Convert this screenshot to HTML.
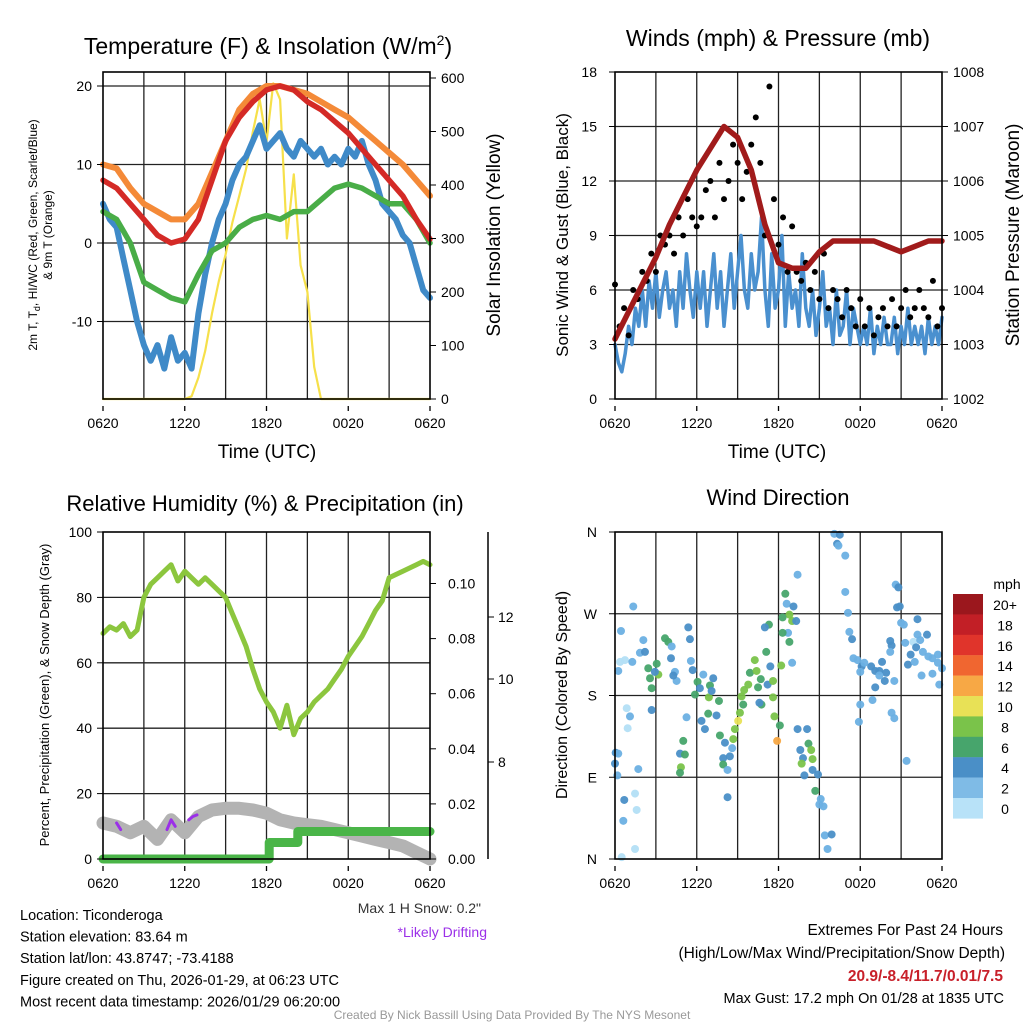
<!DOCTYPE html>
<html><head><meta charset="utf-8"><style>
html,body{margin:0;padding:0;background:#fff;}
svg{display:block;font-family:"Liberation Sans",sans-serif;}
</style></head><body>
<svg id="c" width="1024" height="1024" viewBox="0 0 1024 1024" xmlns="http://www.w3.org/2000/svg"></svg>
<script>
// ---------- DATA ----------
const tempT = [8,7,5,3,1,0,0.5,3,8,13,16,18,19.5,20,19.5,18,17,15.5,14,12,10,8,6,3,0.5];
const temp9m = [10,9.5,7,5,4,3,3,5,9,13,17,19,20,20,19.5,19,18,17,16,14.5,13,11.5,10,8,6];
const dewT = [4,3,0,-5,-6,-7,-7.5,-4,-1,0,2,3,3.5,3,4,4,5.5,7,7.5,7,6,5,5,3,0];
const windChill = [5,3,2,-2,-6,-10,-13,-15,-13,-16,-12,-15,-14,-16,-9,-4,0,3,5,8,10,11,13,15,12,13,14,12,11,13,12,11,12,10,11,10,12,11,13,10,8,5,4,3,1,0,-3,-6,-7];
const insolation = [0,0,0,0,0,0,0,0,0,0,0,0,0,5,40,90,160,220,270,330,380,430,500,560,480,590,560,300,420,250,200,60,0,0,0,0,0,0,0,0,0,0,0,0,0,0,0,0,0];
const windSpeed = [3,2,1.5,2.5,4,3,5,4,6, 4,6.5,5,7,4.5,6,7,5, 6,4,7,5,8,6,4.5,7, 5,7,4,6,8,5,7,4, 6,8,5,7,9,6,5,8, 6,7,10,6,4,8,5,6, 9,4,7,5,6,4,8,5, 4,6,3.5,5,7,4,5,3, 6,3.5,4,6,3,5,4,3, 4,3,5,2.5,4,3,4.5,3, 3,4.5,2.5,4,3,5,3,4, 3,4,2.5,4.5,3,4,3,4.5];
const gusts = [6.3,4,5,3.5,6,5.5,7, 6.5,8,7,9,8.5,9, 8,10,9,11,10,9.5, 10,11.5,12,10,13,11, 12,14,13,11,12.5,14, 15.5,13,9,17.2,11,8.5, 10,7,9.5,7,6.5,7.5, 6,7,5.5,8,5,6, 5.5,4.5,6,5,4,5.5, 4,5,3.5,4.5,5,4, 5.5,4,5,6,4.5,5, 6,5,4.5,6.5,4,5];
const pressure = [1003.1,1003.6,1004.1,1004.6,1005.2,1005.7,1006.2,1006.6,1007.0,1006.8,1006.2,1005.2,1004.5,1004.4,1004.4,1004.7,1004.9,1004.9,1004.9,1004.9,1004.8,1004.7,1004.8,1004.9,1004.9];
const relHum = [69,71,70,72,68,70,80,84,86,88,90,85,88,86,84,86,84,82,80,75,70,65,58,52,48,45,40,47,38,43,45,48,50,52,55,58,62,65,68,72,76,79,86,87,88,89,90,91,90];
const snowPct = [11,10,8,10,6,12,8,13,15,15.5,15.5,15,14,12,11,10.5,10,9,8,7,6,5,4,2,0];
const precipHours = [0,12.2,12.2,14.3,14.3,24];
const precipIn = [0,0,0.006,0.006,0.01,0.01];
const driftHours = [[1.0,1.3],[4.7,5.0,5.3],[6.3,6.6,6.9]];
const driftPct = [[11,9],[9,12,10],[12,13,13.5]];
const dirHours = [0.44,1.34,0.37,0.73,0.24,1.27,1.83,2.2,2.08,2.44,2.57,3.18,3.06,2.69,2.93,3.67,3.91,4.16,4.11,4.4,4.52,4.28,5.38,5.5,5.57,5.7,5.87,6.06,6.23,6.48,6.97,6.89,7.09,7.21,7.63,6.84,7.45,6.35,6.6,5.25,2.69,0.86,1.1,0.93,5.01,4.77,5.13,4.84,4.77,7.7,8.07,8.6,7.94,7.94,8.26,8.43,8.26,8.68,8.8,9.04,9.17,9.41,9.29,9.48,9.78,9.9,10.26,10.39,10.7,10.5,11.1,11.3,11.0,11.4,11.2,10.75,10.6,11.6,11.6,11.7,12.1,12.2,11.9,12.5,12.6,13.1,12.8,12.3,13.0,13.3,12.7,12.3,12.8,13.0,13.4,13.4,14.1,14.2,14.4,14.5,13.6,13.8,13.7,13.9,14.5,14.9,14.7,15.1,15.0,15.3,15.4,15.9,15.6,16.1,16.5,16.3,16.4,16.9,16.9,17.1,17.2,17.4,17.5,17.8,18.1,18.0,18.3,18.8,19.1,19.4,19.6,19.9,19.8,19.4,19.1,18.9,18.0,17.9,20.3,20.5,21.4,20.6,20.8,20.7,20.9,21.0,21.2,22.2,20.2,20.3,20.2,20.5,21.3,21.9,22.2,22.9,22.4,21.7,22.1,22.6,23.0,23.3,23.7,21.5,22.0,22.5,23.3,23.8,24.0,23.7,0,0.05,0.17,0.24,1.71,0.68,1.47,1.59,0.61,1.47,0.49];
const dirDeg = [251,278,217,219,207,217,227,228,241,210,199,203,215,188,206,243,239,234,221,206,196,202,255,242,218,208,181,195,188,203,191,178,185,199,174,160,158,152,143,156,164,166,157,144,130,116,115,101,95,136,128,122,111,104,98,113,68,132,143,152,161,170,179,186,192,205,219,207,198,189,228,258,255,212,192,170,172,196,178,157,147,213,130,292,281,278,269,266,262,262,249,249,239,216,313,143,143,127,120,110,120,111,105,92,98,93,75,66,60,58,26,27,11,358,357,347,345,334,294,271,250,242,221,219,212,206,216,212,207,207,217,205,196,202,189,175,170,151,161,155,108,302,299,277,278,260,258,264,240,235,228,196,238,239,247,247,241,225,233,228,223,221,216,214,217,202,204,192,210,225,105,117,92,116,99,65,72,54,42,11,2];
const dirSpeed = [3,3,1,1,3,3,3,4,3,6,6,8,6,6,4,6,6,3,4,3,3,4,4,4,3,4,6,6,4,3,6,8,4,4,6,6,4,4,4,3,4,1,3,1,6,4,6,8,6,6,4,3,4,6,3,4,4,8,8,10,8,6,8,8,8,6,8,8,6,6,6,6,4,4,4,6,4,8,8,8,6,8,12,6,3,4,8,6,8,4,3,6,6,3,3,4,4,6,8,8,4,4,8,4,4,4,6,3,3,3,3,4,3,3,4,4,3,3,3,3,3,4,3,3,4,3,3,4,4,4,4,4,4,3,4,3,3,3,3,3,3,3,4,4,4,3,3,4,4,4,3,3,3,1,3,4,3,4,4,3,3,3,3,4,3,3,3,3,3,3,4,4,3,3,3,4,1,1,3,1,1,3];
const cbLabels = ["20+","18","16","14","12","10","8","6","4","2","0"];
const cbColors = ["#9b171d","#c21f26","#e0342b","#f06630","#f7a845","#e8e156","#7ac34a","#47a56c","#4a8fc7","#7fbbe6","#b8e2f8"];
const tempTicks = [-10,0,10,20];
const insolTicks = [0,100,200,300,400,500,600];
const windTicks = [0,3,6,9,12,15,18];
const presTicks = [1002,1003,1004,1005,1006,1007,1008];
const rhTicks = [0,20,40,60,80,100];
const precipTicks = [0,0.02,0.04,0.06,0.08,0.10];
const timeLabels = ["0620","1220","1820","0020","0620"];
const dirLabels = ["N","E","S","W","N"];

// ---------- HELPERS ----------
const NS="http://www.w3.org/2000/svg", svg=document.getElementById('c');
function mk(tag,attrs,parent){const e=document.createElementNS(NS,tag);for(const k in attrs)e.setAttribute(k,attrs[k]);(parent||svg).appendChild(e);return e;}
function txt(x,y,s,size,anchor,extra){const e=mk('text',Object.assign({x:x,y:y,'font-size':size,'text-anchor':anchor||'middle',fill:'#000'},extra||{}));e.textContent=s;return e;}
const xL=t=>103+t*(327/24), xR=t=>615+t*(327/24);
const yTemp=v=>243-v*7.85, yIns=v=>399-v*(321/600);
const yWind=v=>399-v*(327/18), yPres=v=>399-(v-1002)*(327/6);
const yRH=v=>859-v*3.27, yPrec=v=>859-v*2755;
const yDir=d=>859-d*(327/360);
function pathOf(vals,hours,xf,yf){return vals.map((v,i)=>(i?'L':'M')+xf(hours?hours[i]:i*24/(vals.length-1)).toFixed(1)+' '+yf(v).toFixed(1)).join(' ');}
function grid(x0,x1,y0,y1,ys){
  for(let i=1;i<8;i++){const x=x0+i*(x1-x0)/8;const l=mk('line',{x1:x,x2:x,y1:y0,y2:y1,stroke:'#222','stroke-width':1.3});
    
    }
  ys.forEach(y=>{const l=mk('line',{x1:x0,x2:x1,y1:y,y2:y,stroke:'#222','stroke-width':1.3});
    
    });
}
function frame(x0,x1,y0,y1,name){const r=mk('rect',{x:x0,y:y0,width:x1-x0,height:y1-y0,fill:'none',stroke:'#000','stroke-width':1.6});
  
  }
function timeAxis(x0,x1,y){timeLabels.forEach((s,i)=>{const x=x0+i*(x1-x0)/4;const t=txt(x,y,s,14);
  
  
  mk('line',{x1:x,x2:x,y1:y-22,y2:y-17,stroke:'#000','stroke-width':1.3});});}
function series(d,color,w,name,op){const p=mk('path',{d:d,fill:'none',stroke:color,'stroke-width':w,'stroke-linejoin':'round','stroke-linecap':'round',opacity:op||1});
  
  return p;}

// ---------- PANEL 1: TEMPERATURE ----------
grid(103,430,72,399,tempTicks.map(yTemp));
series(pathOf(insolation,null,xL,yIns),'#f6e04a',2.2,'insolation-line');
series(pathOf(temp9m,null,xL,yTemp),'#f48a38',6,'temp-9m-line');
series(pathOf(windChill,null,xL,yTemp),'#3f8ac8',6,'windchill-line');
series(pathOf(dewT,null,xL,yTemp),'#49ad47',5.5,'dewpoint-line');
series(pathOf(tempT,null,xL,yTemp),'#d42a26',5.5,'temperature-line');
frame(103,430,72,399,'temp-plot-frame');
tempTicks.forEach(v=>{const t=txt(92,yTemp(v)+5,String(v),14,'end');
  
  
  mk('line',{x1:97,x2:103,y1:yTemp(v),y2:yTemp(v),stroke:'#000'});});
insolTicks.forEach(v=>{const t=txt(441,yIns(v)+5,String(v),14,'start');
  
  
  mk('line',{x1:430,x2:436,y1:yIns(v),y2:yIns(v),stroke:'#000'});});
timeAxis(103,430,428);
let e=txt(268,54,'Temperature (F) & Insolation (W/m',23);const sup=mk('tspan',{dy:-9,'font-size':14},e);sup.textContent='2';const cl=mk('tspan',{dy:9},e);cl.textContent=')';


e=txt(267,458,'Time (UTC)',19);


e=txt(0,0,'Solar Insolation (Yellow)',19,'middle',{transform:'translate(500,235) rotate(-90)'});


e=txt(0,0,'2m T, T',12,'middle',{transform:'translate(37,235) rotate(-90)'});
const sub=mk('tspan',{dy:3,'font-size':9},e);sub.textContent='d';const rest=mk('tspan',{dy:-3},e);rest.textContent=',  HI/WC (Red, Green, Scarlet/Blue)';


e=txt(0,0,'& 9m T (Orange)',12,'middle',{transform:'translate(52,235) rotate(-90)'});



// ---------- PANEL 2: WINDS ----------
grid(615,942,72,399,windTicks.slice(1,6).map(yWind));
series(pathOf(windSpeed,null,xR,yWind),'#4a90cf',3.5,'wind-speed-line');
gusts.forEach((g,i)=>{const c=mk('circle',{cx:xR(i*24/(gusts.length-1)),cy:yWind(g),r:3,fill:'#000'});
  
  });
series(pathOf(pressure,null,xR,yPres),'#a11b1b',5.5,'pressure-line');
frame(615,942,72,399,'wind-plot-frame');
windTicks.forEach(v=>{const t=txt(597,yWind(v)+5,String(v),14,'end');
  
  
  mk('line',{x1:609,x2:615,y1:yWind(v),y2:yWind(v),stroke:'#000'});});
presTicks.forEach(v=>{const t=txt(953,yPres(v)+5,String(v),14,'start');
  
  
  mk('line',{x1:942,x2:948,y1:yPres(v),y2:yPres(v),stroke:'#000'});});
timeAxis(615,942,428);
e=txt(778,46,'Winds (mph) & Pressure (mb)',23);


e=txt(777,458,'Time (UTC)',19);


e=txt(0,0,'Sonic Wind & Gust (Blue, Black)',17,'middle',{transform:'translate(568,235) rotate(-90)'});


e=txt(0,0,'Station Pressure (Maroon)',19,'middle',{transform:'translate(1019,235) rotate(-90)'});



// ---------- PANEL 3: RH / PRECIP ----------
grid(103,430,532,859,rhTicks.slice(1,5).map(yRH));
series(pathOf(snowPct,null,xL,yRH),'#b3b3b3',13,'snow-depth-line');
driftHours.forEach((hs,k)=>{series(pathOf(driftPct[k],hs,xL,yRH),'#9b30e8',3,'drifting-marker');});
series(pathOf(precipIn,precipHours,xL,yPrec),'#4ab548',9,'precip-line');
series(pathOf(relHum,null,xL,yRH),'#8cc63e',5,'rh-line');
frame(103,430,532,859,'rh-plot-frame');
rhTicks.forEach(v=>{const t=txt(92,yRH(v)+5,String(v),14,'end');
  
  
  mk('line',{x1:97,x2:103,y1:yRH(v),y2:yRH(v),stroke:'#000'});});
precipTicks.forEach(v=>{const t=txt(448,yPrec(v)+5,v.toFixed(2),14,'start');
  
  
  mk('line',{x1:430,x2:436,y1:yPrec(v),y2:yPrec(v),stroke:'#000'});});
mk('line',{x1:488,x2:488,y1:532,y2:859,stroke:'#000','stroke-width':1.5});
[["12",617],["10",679],["8",762]].forEach(a=>{const t=txt(498,a[1]+5,a[0],14,'start');
  
  
  mk('line',{x1:488,x2:494,y1:a[1],y2:a[1],stroke:'#000'});});
timeAxis(103,430,888);
e=txt(265,511,'Relative Humidity (%) & Precipitation (in)',22);


e=txt(0,0,'Percent, Precipitation (Green), & Snow Depth (Gray)',13,'middle',{transform:'translate(49,695) rotate(-90)'});


e=txt(481,913,'Max 1 H Snow: 0.2"',14,'end',{fill:'#333'});


e=txt(487,937,'*Likely Drifting',14,'end',{fill:'#9b30e8'});



// ---------- PANEL 4: WIND DIRECTION ----------
grid(615,942,532,859,[90,180,270].map(yDir));
function spdColor(s){const idx=Math.min(10,Math.max(0,Math.round(s/2)));return cbColors[10-idx];}
dirHours.forEach((h,i)=>{const c=mk('circle',{cx:xR(h),cy:yDir(dirDeg[i]),r:4,fill:dirSpeed[i]<=1?'#b3dff6':dirSpeed[i]==3?'#6cb0e3':spdColor(dirSpeed[i]),opacity:0.95});
  
  });
frame(615,942,532,859,'direction-plot-frame');
dirLabels.forEach((s,i)=>{const y=yDir(i*90);const t=txt(597,y+5,s,14,'end');
  
  
  mk('line',{x1:609,x2:615,y1:y,y2:y,stroke:'#000'});});
timeAxis(615,942,888);
e=txt(778,505,'Wind Direction',22);


e=txt(0,0,'Direction (Colored By Speed)',16,'middle',{transform:'translate(567,695) rotate(-90)'});


e=txt(1007,589,'mph',14,'middle');


cbLabels.forEach((s,i)=>{const y=594+i*20.4;const r=mk('rect',{x:953,y:y,width:30,height:20.6,fill:cbColors[i]});
  
  
  const t=txt(1005,y+16,s,14,'middle');
  
  });

// ---------- FOOTER TEXT ----------
const info=["Location: Ticonderoga","Station elevation: 83.64 m","Station lat/lon: 43.8747; -73.4188","Figure created on Thu, 2026-01-29, at 06:23 UTC","Most recent data timestamp: 2026/01/29 06:20:00"];
info.forEach((s,i)=>{const t=txt(20,920+i*21.6,s,14.5,'start');
  
  });
e=txt(1003,935,'Extremes For Past 24 Hours',15.5,'end');


e=txt(1005,958,'(High/Low/Max Wind/Precipitation/Snow Depth)',15.5,'end');


e=txt(1003,981,'20.9/-8.4/11.7/0.01/7.5',15.5,'end',{fill:'#c8202a','font-weight':'bold'});


e=txt(1004,1003,'Max Gust: 17.2 mph On 01/28 at 1835 UTC',14.5,'end');


e=txt(512,1019,'Created By Nick Bassill Using Data Provided By The NYS Mesonet',12,'middle',{fill:'#999'});


</script>
</body></html>
